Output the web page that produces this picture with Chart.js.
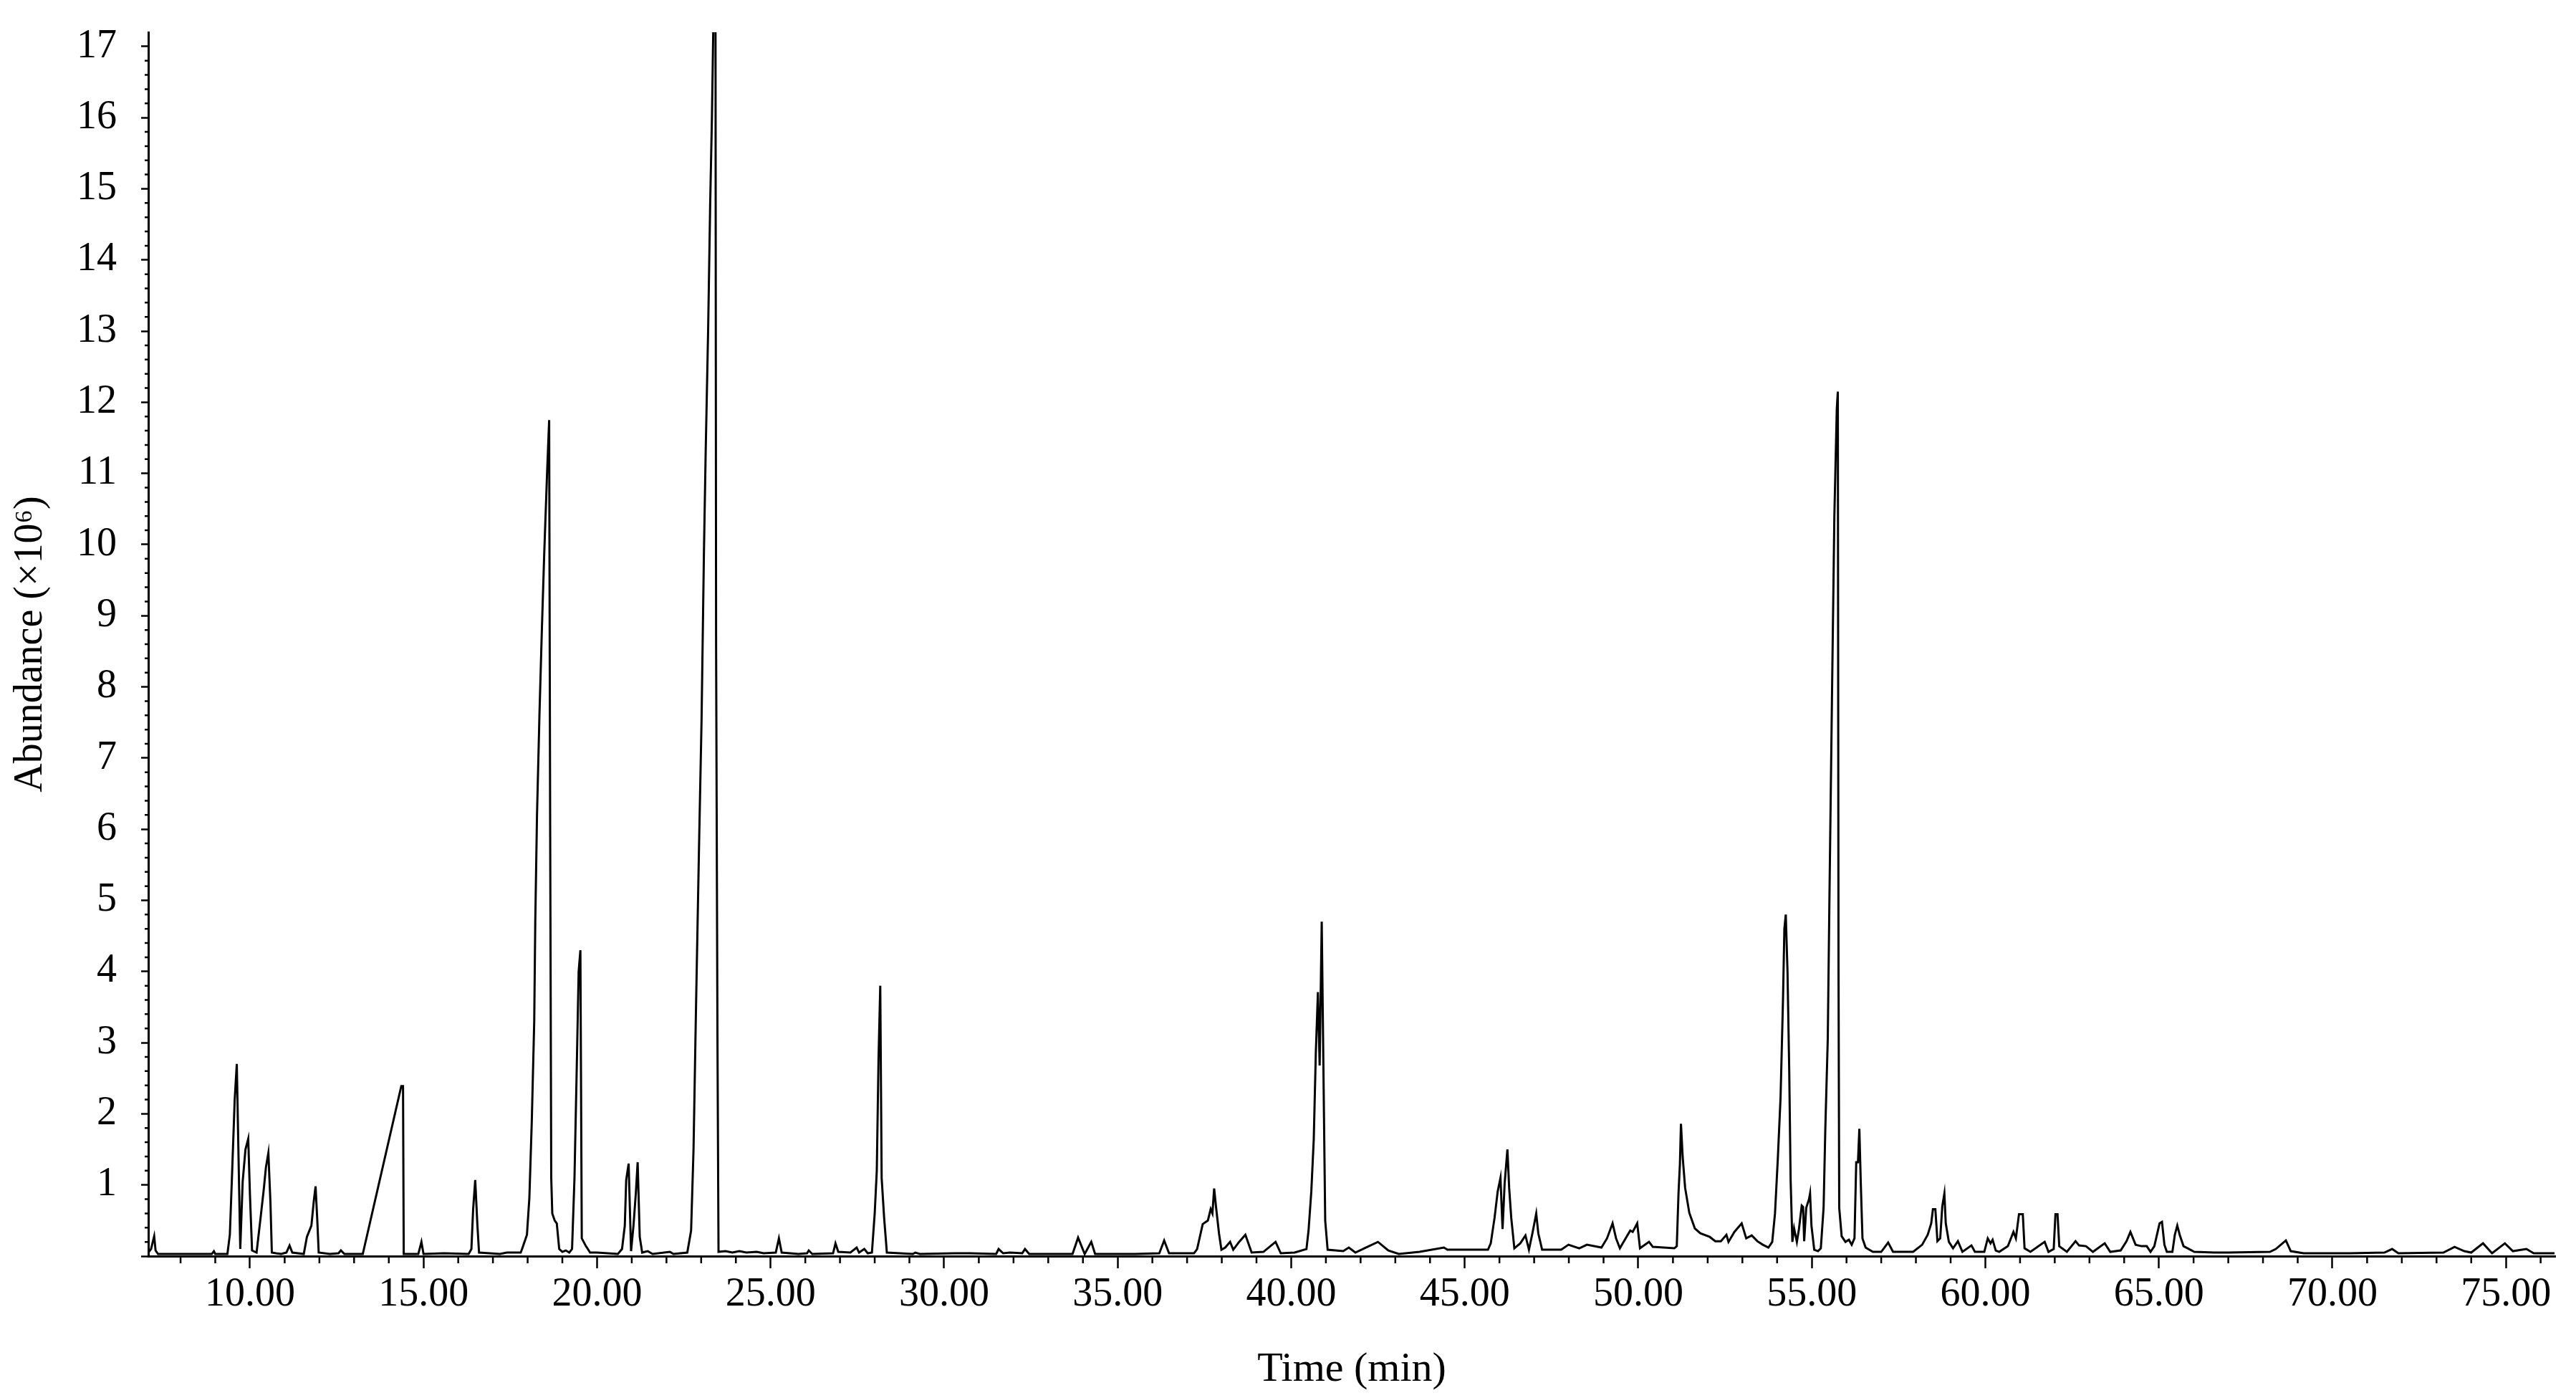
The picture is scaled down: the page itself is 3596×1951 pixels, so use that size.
<!DOCTYPE html>
<html>
<head>
<meta charset="utf-8">
<script src="https://cdn.jsdelivr.net/npm/chart.js@4.4.1/dist/chart.umd.min.js"></script>
<style>
  html, body { margin: 0; padding: 0; background: #fff; }
  #chart { display: block; }
</style>
</head>
<body>
<canvas id="chart" width="3596" height="1951"></canvas>
<script>
// retention time (min) and abundance (x10^6)
const retentionTime = [
  7.07, 7.15, 7.2, 7.24, 7.28, 7.35, 8.9, 8.96, 9.0, 9.35,
  9.42, 9.48, 9.56, 9.62, 9.67, 9.72, 9.79, 9.87, 9.95, 10.0,
  10.06, 10.19, 10.32, 10.4, 10.46, 10.53, 10.59, 10.63, 10.75, 10.9,
  11.05, 11.14, 11.22, 11.55, 11.64, 11.77, 11.84, 11.89, 11.94, 11.98,
  12.3, 12.55, 12.62, 12.72, 13.25, 14.36, 14.41, 14.43, 14.85, 14.94,
  15.0, 15.6, 16.3, 16.38, 16.43, 16.49, 16.55, 16.6, 16.9, 17.2,
  17.4, 17.8, 17.84, 17.98, 18.05, 18.12, 18.19, 18.22, 18.27, 18.34,
  18.41, 18.48, 18.56, 18.62, 18.65, 18.68, 18.71, 18.78, 18.84, 18.91,
  19.0, 19.1, 19.2, 19.28, 19.35, 19.42, 19.47, 19.52, 19.56, 19.68,
  19.8, 20.0, 20.6, 20.72, 20.8, 20.84, 20.91, 20.98, 21.05, 21.12,
  21.17, 21.23, 21.3, 21.46, 21.6, 22.1, 22.2, 22.6, 22.71, 22.78,
  22.85, 22.89, 22.94, 23.01, 23.08, 23.13, 23.2, 23.26, 23.31, 23.36,
  23.41, 23.43, 23.47, 23.5, 23.7, 23.9, 24.1, 24.3, 24.6, 24.8,
  25.15, 25.24, 25.32, 25.8, 26.05, 26.1, 26.2, 26.8, 26.87, 26.95,
  27.3, 27.48, 27.55, 27.7, 27.8, 27.92, 28.0, 28.06, 28.11, 28.16,
  28.2, 28.27, 28.35, 29.1, 29.17, 29.3, 30.3, 30.75, 31.5, 31.57,
  31.7, 31.9, 32.25, 32.33, 32.45, 33.7, 33.86, 34.05, 34.24, 34.35,
  35.5, 36.2, 36.34, 36.48, 37.2, 37.29, 37.45, 37.6, 37.68, 37.73,
  37.78, 37.83, 37.92, 37.99, 38.1, 38.24, 38.33, 38.5, 38.68, 38.86,
  39.2, 39.55, 39.7, 40.1, 40.44, 40.5, 40.58, 40.65, 40.71, 40.77,
  40.82, 40.88, 40.92, 40.98, 41.05, 41.5, 41.66, 41.85, 42.15, 42.5,
  42.8, 43.1, 43.7, 44.4, 44.5, 45.67, 45.75, 45.86, 45.95, 46.03,
  46.09, 46.15, 46.23, 46.28, 46.34, 46.43, 46.6, 46.75, 46.85, 46.95,
  47.06, 47.12, 47.23, 47.78, 47.99, 48.3, 48.52, 48.94, 49.1, 49.26,
  49.36, 49.47, 49.66, 49.77, 49.84, 49.97, 50.05, 50.31, 50.42, 51.04,
  51.11, 51.16, 51.2, 51.23, 51.28, 51.35, 51.47, 51.63, 51.79, 52.06,
  52.22, 52.38, 52.54, 52.6, 52.77, 52.98, 53.11, 53.27, 53.43, 53.59,
  53.75, 53.86, 53.94, 54.02, 54.1, 54.17, 54.21, 54.25, 54.3, 54.35,
  54.39, 54.44, 54.49, 54.57, 54.63, 54.71, 54.75, 54.78, 54.84, 54.92,
  54.95, 54.99, 55.07, 55.18, 55.26, 55.34, 55.39, 55.46, 55.51, 55.58,
  55.65, 55.72, 55.75, 55.77, 55.79, 55.86, 55.97, 56.07, 56.15, 56.23,
  56.28, 56.33, 56.37, 56.41, 56.46, 56.55, 56.76, 57.0, 57.2, 57.34,
  57.92, 58.18, 58.34, 58.44, 58.49, 58.56, 58.62, 58.7, 58.76, 58.82,
  58.86, 58.95, 59.07, 59.21, 59.34, 59.6, 59.7, 59.97, 60.07, 60.15,
  60.21, 60.3, 60.4, 60.65, 60.81, 60.88, 60.97, 61.08, 61.13, 61.3,
  61.71, 61.82, 61.97, 62.02, 62.08, 62.13, 62.35, 62.6, 62.7, 62.9,
  63.1, 63.44, 63.6, 63.9, 64.07, 64.18, 64.33, 64.5, 64.65, 64.76,
  64.87, 65.02, 65.09, 65.16, 65.23, 65.39, 65.46, 65.53, 65.6, 65.71,
  65.87, 66.02, 66.6, 67.0, 68.2, 68.37, 68.66, 68.8, 69.17, 70.5,
  71.5, 71.72, 71.9, 73.2, 73.52, 73.8, 74.0, 74.34, 74.6, 74.97,
  75.2, 75.59, 75.8, 76.4
];
const abundance = [
  0.05, 0.1, 0.2, 0.28, 0.08, 0.03, 0.03, 0.07, 0.03, 0.03,
  0.3, 1.1, 2.2, 2.7, 1.4, 0.1, 1.05, 1.5, 1.65, 0.85,
  0.08, 0.05, 0.6, 0.95, 1.25, 1.45, 0.75, 0.05, 0.04, 0.03,
  0.05, 0.15, 0.05, 0.03, 0.27, 0.43, 0.78, 0.98, 0.5, 0.05,
  0.03, 0.04, 0.08, 0.03, 0.03, 2.39, 2.39, 0.03, 0.03, 0.2,
  0.03, 0.04, 0.03, 0.1, 0.66, 1.07, 0.46, 0.05, 0.04, 0.03,
  0.05, 0.05, 0.1, 0.3, 0.82, 1.9, 3.3, 4.7, 6.2, 7.6,
  8.8, 9.9, 11.0, 11.75, 5.9, 1.1, 0.6, 0.5, 0.46, 0.1,
  0.06, 0.08, 0.05, 0.1, 1.1, 2.77, 4.0, 4.3, 0.25, 0.14,
  0.05, 0.05, 0.03, 0.1, 0.43, 1.07, 1.3, 0.07, 0.43, 0.9,
  1.32, 0.27, 0.05, 0.07, 0.03, 0.06, 0.03, 0.05, 0.36, 1.5,
  3.46, 4.5, 5.8, 7.5, 9.9, 11.3, 13.0, 14.8, 16.0, 17.6,
  19.0, 8.6, 3.0, 0.06, 0.07, 0.05, 0.07, 0.05, 0.06, 0.04,
  0.05, 0.25, 0.05, 0.03, 0.04, 0.08, 0.03, 0.04, 0.18, 0.06,
  0.05, 0.12, 0.05, 0.1, 0.04, 0.05, 0.6, 1.2, 2.77, 3.8,
  1.1, 0.55, 0.05, 0.03, 0.05, 0.03, 0.04, 0.04, 0.03, 0.1,
  0.04, 0.05, 0.04, 0.1, 0.03, 0.03, 0.26, 0.03, 0.2, 0.03,
  0.03, 0.04, 0.22, 0.04, 0.04, 0.1, 0.45, 0.5, 0.66, 0.6,
  0.95, 0.71, 0.32, 0.09, 0.12, 0.2, 0.09, 0.2, 0.3, 0.05,
  0.06, 0.2, 0.04, 0.05, 0.1, 0.36, 0.91, 1.64, 2.86, 3.71,
  2.68, 4.7, 3.0, 0.5, 0.09, 0.07, 0.12, 0.05, 0.12, 0.2,
  0.08, 0.03, 0.06, 0.12, 0.09, 0.09, 0.18, 0.54, 0.91, 1.1,
  0.38, 1.02, 1.5, 0.96, 0.54, 0.11, 0.18, 0.29, 0.09, 0.32,
  0.6, 0.32, 0.09, 0.09, 0.16, 0.11, 0.16, 0.12, 0.25, 0.46,
  0.25, 0.11, 0.27, 0.36, 0.34, 0.46, 0.11, 0.2, 0.13, 0.11,
  0.14, 0.89, 1.29, 1.86, 1.39, 0.96, 0.61, 0.39, 0.32, 0.27,
  0.21, 0.21, 0.3, 0.2, 0.34, 0.46, 0.25, 0.29, 0.21, 0.16,
  0.12, 0.2, 0.6, 1.36, 2.23, 3.6, 4.6, 4.8, 4.0, 2.6,
  1.07, 0.2, 0.39, 0.2, 0.38, 0.71, 0.69, 0.21, 0.68, 0.8,
  0.88, 0.43, 0.09, 0.07, 0.11, 0.68, 1.8, 3.05, 5.1, 7.8,
  10.4, 11.9, 12.15, 4.0, 0.68, 0.28, 0.2, 0.23, 0.16, 0.25,
  1.32, 1.32, 1.79, 1.05, 0.25, 0.12, 0.06, 0.06, 0.19, 0.06,
  0.06, 0.16, 0.3, 0.46, 0.66, 0.66, 0.21, 0.25, 0.7, 0.88,
  0.46, 0.2, 0.11, 0.21, 0.06, 0.15, 0.06, 0.06, 0.25, 0.18,
  0.23, 0.08, 0.06, 0.14, 0.34, 0.25, 0.59, 0.59, 0.11, 0.06,
  0.2, 0.06, 0.1, 0.59, 0.59, 0.14, 0.06, 0.21, 0.15, 0.14,
  0.06, 0.18, 0.06, 0.08, 0.21, 0.34, 0.16, 0.14, 0.14, 0.06,
  0.14, 0.46, 0.48, 0.16, 0.06, 0.06, 0.3, 0.43, 0.3, 0.14,
  0.1, 0.06, 0.05, 0.05, 0.06, 0.1, 0.22, 0.07, 0.04, 0.04,
  0.05, 0.1, 0.04, 0.05, 0.13, 0.07, 0.05, 0.18, 0.04, 0.18,
  0.07, 0.1, 0.04, 0.04
];

const timeRange = [7.07, 76.42];
const abundanceRange = [0, 17.2];
const yAxisTitle = 'Abundance (\u00d710\u2076)';
const xAxisTitle = 'Time (min)';

const points = retentionTime.map((t, i) => ({ x: t, y: abundance[i] }));

const FONT = "'Liberation Serif', 'Times New Roman', serif";

// small minor tick marks that chart.js has no option for
const minorTicks = {
  id: 'minorTicks',
  afterDraw(chart) {
    const ctx = chart.ctx;
    const xs = chart.scales.x, ys = chart.scales.y;
    ctx.save();
    ctx.strokeStyle = '#000';
    ctx.lineWidth = 2.5;
    ctx.beginPath();
    for (let t = Math.ceil(xs.min); t <= xs.max; t++) {
      if (t % 5 === 0) continue;
      const px = xs.getPixelForValue(t);
      ctx.moveTo(px, ys.bottom);
      ctx.lineTo(px, ys.bottom + 10);
    }
    for (let k = 1; k <= 85; k++) {
      if (k % 5 === 0) continue;
      const py = ys.getPixelForValue(k / 5);
      ctx.moveTo(xs.left, py);
      ctx.lineTo(xs.left - 5, py);
    }
    ctx.stroke();
    ctx.restore();
  }
};

new Chart(document.getElementById('chart'), {
  type: 'line',
  data: {
    datasets: [{
      data: points,
      borderColor: '#000',
      borderWidth: 3,
      pointRadius: 0,
      tension: 0,
      fill: false
    }]
  },
  options: {
    responsive: false,
    devicePixelRatio: 1,
    animation: false,
    layout: { padding: { left: 0, right: 29, top: 45, bottom: 0 } },
    plugins: { legend: { display: false }, tooltip: { enabled: false } },
    scales: {
      x: {
        type: 'linear',
        min: timeRange[0],
        max: timeRange[1],
        afterBuildTicks: s => { s.ticks = s.ticks.filter(t => t.value >= s.min && t.value <= s.max); },
        afterFit: s => { s.height = 198; s.paddingLeft = 0; s.paddingRight = 0; },
        ticks: {
          stepSize: 5,
          includeBounds: false,
          autoSkip: false,
          maxRotation: 0,
          padding: 4,
          color: '#000',
          font: { family: FONT, size: 56 },
          callback: v => v.toFixed(2)
        },
        grid: { drawOnChartArea: false, drawTicks: true, tickLength: 17, tickColor: '#000', tickWidth: 2.5 },
        border: { display: true, color: '#000', width: 3 },
        title: {
          display: true,
          text: xAxisTitle,
          color: '#000',
          font: { family: FONT, size: 58 },
          padding: { top: 0, bottom: 4 }
        }
      },
      y: {
        min: abundanceRange[0],
        max: abundanceRange[1],
        afterFit: s => { s.width = 207; s.paddingTop = 0; s.paddingBottom = 0; },
        ticks: {
          stepSize: 1,
          includeBounds: false,
          autoSkip: false,
          padding: 34,
          color: '#000',
          font: { family: FONT, size: 56 },
          callback: v => (v === 0 ? '' : String(v))
        },
        grid: { drawOnChartArea: false, drawTicks: true, tickLength: 10, tickColor: '#000', tickWidth: 2.5 },
        border: { display: true, color: '#000', width: 3 },
        title: {
          display: true,
          text: yAxisTitle,
          color: '#000',
          font: { family: FONT, size: 56 },
          padding: { top: 10, bottom: 0 }
        }
      }
    }
  },
  plugins: [minorTicks]
});
</script>
</body>
</html>
